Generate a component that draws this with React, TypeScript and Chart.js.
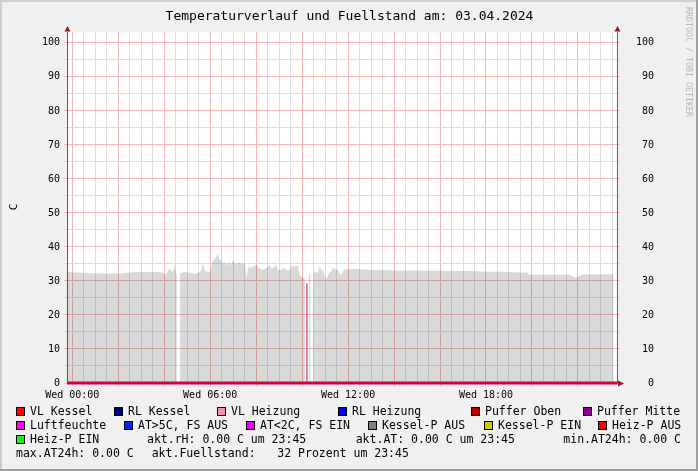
import React, { useEffect, useRef } from 'react';
import { Chart, registerables } from 'chart.js';

Chart.register(...registerables);

// ---------- data ----------
const TITLE = 'Temperaturverlauf und Fuellstand am: 03.04.2024';
const Y_AXIS_LABEL = 'C';
const WATERMARK = 'RRDTOOL / TOBI OETIKER';

const X_MIN_HOUR = -0.23;
const X_MAX_HOUR = 23.7;
const X_LABEL_HOURS = [0, 6, 12, 18];
const X_LABELS = ['Wed 00:00', 'Wed 06:00', 'Wed 12:00', 'Wed 18:00'];
const Y_MAX = 103.2;
const Y_LABEL_VALUES = [0, 10, 20, 30, 40, 50, 60, 70, 80, 90, 100];

// Fuellstand (grey area), hours since Wed 00:00 and values; null = no data
const FILL_HOURS = [
  -0.23, 0.12, 0.55, 0.99, 1.2, 1.55, 1.86, 2.07, 2.42, 2.73, 3.03, 3.38, 3.73, 3.94,
  4.07, 4.16, 4.25, 4.33, 4.42, 4.47, 4.51, 4.55,
  4.62,
  4.69, 4.9, 5.12, 5.33, 5.55, 5.64, 5.68, 5.77, 5.9, 6.0, 6.05, 6.12, 6.2, 6.29, 6.35,
  6.38, 6.42, 6.49, 6.55, 6.64, 6.73, 6.81, 6.9, 6.99, 7.07, 7.16, 7.25, 7.33, 7.42,
  7.51, 7.58, 7.64, 7.73, 7.81, 7.9, 8.02, 8.12, 8.25, 8.38, 8.51, 8.6, 8.68, 8.77,
  8.86, 8.94, 9.07, 9.2, 9.29, 9.42, 9.55, 9.68, 9.81, 9.9, 10.03, 10.12,
  10.17,
  10.29, 10.37,
  10.42,
  10.48, 10.6, 10.68, 10.77, 10.86, 10.94, 11.03, 11.12, 11.2, 11.29, 11.38, 11.47,
  11.56, 11.64, 11.7, 11.82, 12.08, 12.38, 12.6, 12.86, 13.03, 13.29, 13.6, 13.95,
  14.25, 14.68, 15.12, 15.55, 15.99, 16.42, 16.86, 17.29, 17.73, 18.16, 18.6, 19.03,
  19.47, 19.77, 19.9, 20.33, 20.77, 21.2, 21.64, 21.81, 21.9, 22.03, 22.2, 22.5,
  22.85, 23.16, 23.55,
];
const FILL_VALUES = [
  32.6, 32.5, 32.4, 32.2, 32.3, 32.1, 32.3, 32.2, 32.4, 32.6, 32.7, 32.6, 32.7, 32.4,
  31.8, 33.0, 33.8, 32.6, 33.5, 35.0, 32.0, 31.8,
  null,
  32.3, 32.6, 32.4, 32.1, 32.6, 33.5, 35.3, 33.0, 32.6, 32.8, 34.5, 35.8, 36.5, 37.4, 38.1,
  37.0, 36.0, 36.6, 35.0, 35.5, 34.6, 35.4, 34.8, 36.0, 35.3, 34.8, 35.5, 35.0, 35.2,
  34.8, 30.8, 33.6, 34.2, 33.8, 34.4, 34.7, 33.9, 33.3, 33.6, 34.2, 34.6, 33.6, 34.0,
  34.8, 33.4, 33.2, 33.9, 33.3, 33.0, 34.5, 34.2, 34.7, 31.5, 31.0, 30.6,
  null,
  32.5, 32.5,
  null,
  32.2, 32.8, 32.4, 34.4, 33.0, 32.8, 30.4, 31.5, 32.6, 33.0, 34.0, 33.2,
  33.4, 32.0, 31.8, 33.4, 33.5, 33.5, 33.4, 33.4, 33.2, 33.2, 33.2, 33.1,
  33.1, 33.1, 33.1, 33.0, 33.0, 33.0, 32.9, 32.9, 32.8, 32.7, 32.7, 32.6,
  32.5, 32.5, 31.8, 31.8, 31.8, 31.8, 31.8, 31.2, 30.9, 31.4, 31.9, 32.0,
  31.9, 32.0, 32.0,
];

// single pink spike
const SPIKE_HOURS = [10.21, 10.21];
const SPIKE_VALUES = [0, 29.3];

// all temperature lines sit at zero
const ZERO_HOURS = [X_MIN_HOUR, X_MAX_HOUR];
const ZERO_VALUES = [0, 0];

const LEGEND_NAMES = [
  'VL Kessel', 'RL Kessel', 'VL Heizung', 'RL Heizung', 'Puffer Oben', 'Puffer Mitte',
  'Luftfeuchte', 'AT>5C, FS AUS', 'AT<2C, FS EIN', 'Kessel-P AUS', 'Kessel-P EIN', 'Heiz-P AUS',
  'Heiz-P EIN',
];
const LEGEND_COLORS = [
  '#ff0000', '#000080', '#ff8fa8', '#0000ff', '#b00000', '#8a008a',
  '#ff00ff', '#0022ff', '#ee00ee', '#808080', '#cccc00', '#ff0000',
  '#22ee22',
];
const STAT_TEXTS = [
  'akt.rH: 0.00 C um 23:45',
  'akt.AT: 0.00 C um 23:45',
  'min.AT24h: 0.00 C',
  'max.AT24h: 0.00 C',
  'akt.Fuellstand:',
  '32 Prozent um 23:45',
];

// ---------- styling / layout ----------
const MONO = '"DejaVu Sans Mono", "Liberation Mono", monospace';
const MAJOR_GRID = '#f4b8b8';
const MINOR_GRID = '#dedede';
const AXIS_COLOR = '#606060';
const ARROW_COLOR = '#8b1a1a';

const LEGEND_BOX_X = [16, 114, 217, 338, 471, 583, 16, 124, 246, 368, 484, 598, 16];
const LEGEND_ROW = [0, 0, 0, 0, 0, 0, 1, 1, 1, 1, 1, 1, 2];
const STAT_X = [147, 355.7, 563.3, 16, 151.7, 277.3];
const STAT_ROW = [2, 2, 2, 3, 3, 3];
const ROW_Y = [411, 425, 439, 453];

const decorPlugin = {
  id: 'decor',
  beforeDraw(chart: any) {
    const { ctx, chartArea: a, width, height } = chart;
    ctx.save();
    ctx.fillStyle = '#f0f0f0';
    ctx.fillRect(0, 0, width, height);
    ctx.fillStyle = '#cfcfcf';
    ctx.fillRect(0, 0, width, 2);
    ctx.fillRect(0, 0, 2, height);
    ctx.fillStyle = '#9f9f9f';
    ctx.fillRect(0, height - 2, width, 2);
    ctx.fillRect(width - 2, 0, 2, height);
    ctx.fillStyle = '#ffffff';
    ctx.fillRect(a.left, a.top, a.right - a.left, a.bottom - a.top);
    ctx.restore();
  },
  afterDraw(chart: any) {
    const { ctx, chartArea: a } = chart;
    ctx.save();
    // arrows
    ctx.fillStyle = ARROW_COLOR;
    const up = (x: number) => {
      ctx.beginPath();
      ctx.moveTo(x - 3, a.top - 0.5);
      ctx.lineTo(x + 3, a.top - 0.5);
      ctx.lineTo(x, a.top - 6);
      ctx.closePath();
      ctx.fill();
    };
    up(a.left + 0.5);
    up(a.right + 0.5);
    ctx.beginPath();
    ctx.moveTo(a.right + 1, a.bottom - 2.5);
    ctx.lineTo(a.right + 1, a.bottom + 3.5);
    ctx.lineTo(a.right + 7, a.bottom + 0.5);
    ctx.closePath();
    ctx.fill();

    // title
    ctx.fillStyle = '#000';
    ctx.font = `13px ${MONO}`;
    ctx.textAlign = 'center';
    ctx.textBaseline = 'middle';
    ctx.fillText(TITLE, 349.5, 17);

    // y axis label
    ctx.save();
    ctx.translate(14, 207);
    ctx.rotate(-Math.PI / 2);
    ctx.font = `11px ${MONO}`;
    ctx.fillText(Y_AXIS_LABEL, 0, 0);
    ctx.restore();

    // watermark
    ctx.save();
    ctx.translate(688, 7);
    ctx.rotate(Math.PI / 2);
    ctx.font = `8.3px ${MONO}`;
    ctx.fillStyle = '#b8b8b8';
    ctx.textAlign = 'left';
    ctx.fillText(WATERMARK, 0, 0);
    ctx.restore();

    // legend
    ctx.font = `11.5px ${MONO}`;
    ctx.textAlign = 'left';
    ctx.textBaseline = 'middle';
    LEGEND_NAMES.forEach((name, i) => {
      const bx = LEGEND_BOX_X[i];
      const y = ROW_Y[LEGEND_ROW[i]];
      ctx.fillStyle = LEGEND_COLORS[i];
      ctx.fillRect(bx, y - 4, 9, 9);
      ctx.strokeStyle = '#000';
      ctx.lineWidth = 1;
      ctx.strokeRect(bx + 0.5, y - 3.5, 8, 8);
      ctx.fillStyle = '#000';
      ctx.fillText(name, bx + 14, y + 1);
    });
    STAT_TEXTS.forEach((t, i) => {
      ctx.fillStyle = '#000';
      ctx.fillText(t, STAT_X[i], ROW_Y[STAT_ROW[i]] + 1);
    });
    ctx.restore();
  },
};

export default function App() {
  const ref = useRef<HTMLCanvasElement | null>(null);

  useEffect(() => {
    if (!ref.current) return;
    const xGrid: number[] = [];
    for (let h = 0; h <= X_MAX_HOUR; h += 0.5) xGrid.push(h);
    const yGrid: number[] = [];
    for (let v = 0; v <= 100; v += 5) yGrid.push(v);

    const tickFont = { family: MONO, size: 10 };
    const yGridColor = (c: any) => (c.tick && c.tick.value % 10 === 0 ? MAJOR_GRID : MINOR_GRID);
    const yLabel = (v: any) => (Y_LABEL_VALUES.includes(v) ? String(v) : '');

    const chart = new Chart(ref.current, {
      type: 'line',
      data: {
        datasets: [
          {
            data: ZERO_HOURS.map((x, i) => ({ x, y: ZERO_VALUES[i] })),
            borderColor: '#d2003e',
            borderWidth: 3,
            pointRadius: 0,
            fill: false,
            clip: 6,
            yAxisID: 'y',
          } as any,
          {
            data: SPIKE_HOURS.map((x, i) => ({ x, y: SPIKE_VALUES[i] })),
            borderColor: '#dc5a8a',
            borderWidth: 1.5,
            pointRadius: 0,
            fill: false,
            yAxisID: 'y',
          },
          {
            data: FILL_HOURS.map((x, i) => ({ x, y: FILL_VALUES[i] })),
            borderColor: 'rgba(0,0,0,0)',
            borderWidth: 0,
            backgroundColor: 'rgba(0,0,0,0.15)',
            pointRadius: 0,
            fill: 'origin',
            spanGaps: false,
            tension: 0,
            yAxisID: 'y',
          },
        ],
      },
      options: {
        animation: false,
        responsive: false,
        devicePixelRatio: 1,
        layout: { padding: { top: 32, left: 0, right: 44, bottom: 0 } },
        plugins: { legend: { display: false }, tooltip: { enabled: false }, title: { display: false } },
        events: [],
        scales: {
          x: {
            type: 'linear',
            min: X_MIN_HOUR,
            max: X_MAX_HOUR,
            afterBuildTicks: (s: any) => {
              s.ticks = xGrid.map((value) => ({ value }));
            },
            afterFit: (s: any) => {
              s.height = 88;
            },
            ticks: {
              autoSkip: false,
              maxRotation: 0,
              minRotation: 0,
              padding: 3,
              color: '#000',
              font: tickFont,
              callback: (v: any) => {
                const i = X_LABEL_HOURS.indexOf(v);
                return i >= 0 ? X_LABELS[i] : '';
              },
            },
            grid: {
              color: (c: any) => (c.tick && c.tick.value % 2 === 0 ? MAJOR_GRID : MINOR_GRID),
              tickLength: 3,
              drawTicks: true,
            },
            border: { display: false },
          },
          y: {
            type: 'linear',
            position: 'left',
            min: 0,
            max: Y_MAX,
            afterBuildTicks: (s: any) => {
              s.ticks = yGrid.map((value) => ({ value }));
            },
            afterFit: (s: any) => {
              s.width = 67;
            },
            ticks: { autoSkip: false, padding: 4, color: '#000', font: tickFont, callback: yLabel },
            grid: { color: yGridColor, tickLength: 3, drawTicks: true },
            border: { display: true, color: AXIS_COLOR, width: 1 },
          },
          y2: {
            type: 'linear',
            position: 'right',
            min: 0,
            max: Y_MAX,
            afterBuildTicks: (s: any) => {
              s.ticks = yGrid.map((value) => ({ value }));
            },
            afterFit: (s: any) => {
              s.width = 37;
            },
            ticks: {
              autoSkip: false,
              padding: 4,
              crossAlign: 'far',
              color: '#000',
              font: tickFont,
              callback: yLabel,
            },
            grid: { color: yGridColor, tickLength: 3, drawTicks: true, drawOnChartArea: false },
            border: { display: true, color: AXIS_COLOR, width: 1 },
          },
        },
      } as any,
      plugins: [decorPlugin],
    });
    return () => chart.destroy();
  }, []);

  return (
    <div style={{ position: 'fixed', left: 0, top: 0, width: 698, height: 471 }}>
      <canvas ref={ref} width={698} height={471} style={{ display: 'block', width: 698, height: 471 }} />
    </div>
  );
}
